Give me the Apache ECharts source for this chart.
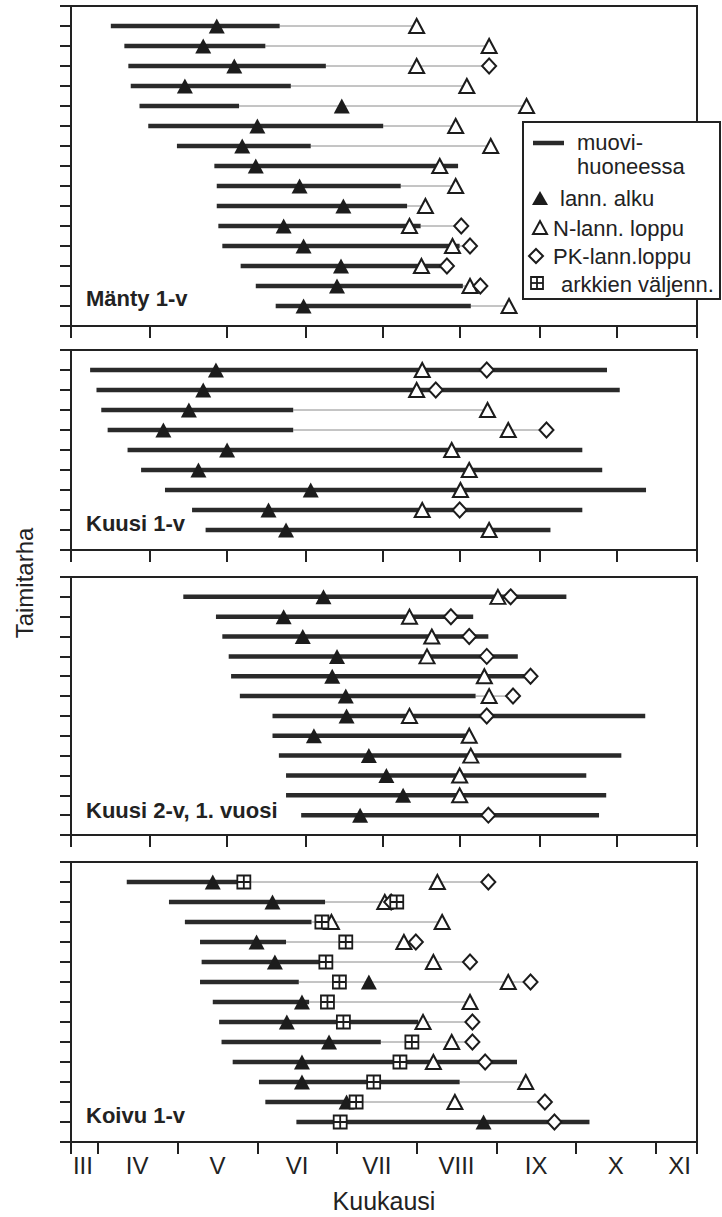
<!DOCTYPE html>
<html>
<head>
<meta charset="utf-8">
<script src="https://cdn.jsdelivr.net/npm/echarts@6/dist/echarts.min.js"></script>
<style>
  html, body { margin: 0; padding: 0; background: #fff; }
  #chart { width: 722px; height: 1217px; }
</style>
</head>
<body>
<div id="chart"></div>
<script>
// Time axis is in months: 4.0 = 1 April, 4.5 = mid-April, etc.
const monthTicks = [3.66, 4, 5, 6, 7, 8, 9, 10, 11, 11.52];
const monthLabelPos = [3.81, 4.49, 5.5, 6.5, 7.5, 8.5, 9.5, 10.5, 11.3];
const monthNames = ['III', 'IV', 'V', 'VI', 'VII', 'VIII', 'IX', 'X', 'XI'];
const panelTicks = [3.66, 4.65, 5.62, 6.61, 7.58, 8.54, 9.55, 10.51, 11.52];

// Mänty 1-v (15 taimitarhaa)
const mantyStart = [4.16, 4.33, 4.38, 4.41, 4.52, 4.63, 4.99, 5.46, 5.49, 5.49, 5.51, 5.56, 5.79, 5.98, 6.23];
const mantyEnd   = [6.28, 6.10, 6.86, 6.42, 5.77, 7.58, 6.67, 8.52, 7.80, 7.88, 8.05, 8.54, 8.31, 8.58, 8.68];
const mantyAlku  = [5.49, 5.32, 5.71, 5.09, 7.06, 6.00, 5.81, 5.98, 6.53, 7.08, 6.33, 6.58, 7.05, 7.00, 6.58];
const mantyN     = [8.00, 8.91, 8.00, 8.63, 9.38, 8.49, 8.93, 8.29, 8.49, 8.11, 7.91, 8.45, 8.06, 8.67, 9.16];
const mantyPK    = [null, null, 8.91, null, null, null, null, null, null, null, 8.56, 8.67, 8.38, 8.80, null];

// Kuusi 1-v (9)
const kuusi1Start = [3.90, 3.98, 4.04, 4.12, 4.37, 4.54, 4.84, 5.18, 5.35];
const kuusi1End   = [10.39, 10.55, 6.45, 6.45, 10.08, 10.33, 10.88, 10.08, 9.68];
const kuusi1Alku  = [5.48, 5.32, 5.14, 4.82, 5.62, 5.26, 6.67, 6.14, 6.36];
const kuusi1N     = [8.07, 8.00, 8.89, 9.15, 8.44, 8.66, 8.55, 8.07, 8.91];
const kuusi1PK    = [8.88, 8.24, null, 9.63, null, null, null, 8.54, null];

// Kuusi 2-v, 1. vuosi (12)
const kuusi2Start = [5.07, 5.48, 5.56, 5.64, 5.67, 5.78, 6.19, 6.19, 6.27, 6.36, 6.36, 6.55];
const kuusi2End   = [9.88, 8.71, 8.90, 9.27, 9.35, 8.74, 10.87, 8.65, 10.57, 10.13, 10.38, 10.29];
const kuusi2Alku  = [6.83, 6.33, 6.57, 7.00, 6.94, 7.11, 7.12, 6.71, 7.40, 7.62, 7.83, 7.29];
const kuusi2N     = [9.02, 7.91, 8.19, 8.13, 8.85, 8.91, 7.91, 8.66, 8.68, 8.54, 8.54, null];
const kuusi2PK    = [9.18, 8.43, 8.66, 8.88, 9.43, 9.21, 8.88, null, null, null, null, 8.90];

// Koivu 1-v (13)
const koivuStart = [4.36, 4.89, 5.09, 5.28, 5.30, 5.28, 5.44, 5.52, 5.55, 5.69, 6.02, 6.10, 6.49];
const koivuEnd   = [5.75, 6.85, 6.68, 6.36, 6.85, 6.52, 6.65, 8.02, 7.55, 9.26, 8.54, 7.12, 10.17];
const koivuAlku  = [5.44, 6.19, null, 5.99, 6.22, 7.40, 6.56, 6.37, 6.90, 6.56, 6.56, 7.12, 8.84];
const koivuN     = [8.26, 7.60, 8.32, 7.84, 8.21, 9.15, 8.67, 8.08, 8.44, 8.21, 9.37, 8.48, null];
const koivuNExtra = [null, null, 6.93, null, null, null, null, null, null, null, null, null, null];
const koivuPK    = [8.90, 7.68, null, 7.99, 8.67, 9.43, null, 8.70, 8.70, 8.86, null, 9.61, 9.73];
const koivuArkki = [5.83, 7.75, 6.81, 7.11, 6.86, 7.03, 6.88, 7.08, 7.94, 7.79, 7.46, 7.24, 7.04];

const panels = [
  { label: 'Mänty 1-v', start: mantyStart, end: mantyEnd, alku: mantyAlku, nEnd: [mantyN], pkEnd: mantyPK, arkki: null },
  { label: 'Kuusi 1-v', start: kuusi1Start, end: kuusi1End, alku: kuusi1Alku, nEnd: [kuusi1N], pkEnd: kuusi1PK, arkki: null },
  { label: 'Kuusi 2-v, 1. vuosi', start: kuusi2Start, end: kuusi2End, alku: kuusi2Alku, nEnd: [kuusi2N], pkEnd: kuusi2PK, arkki: null },
  { label: 'Koivu 1-v', start: koivuStart, end: koivuEnd, alku: koivuAlku, nEnd: [koivuN, koivuNExtra], pkEnd: koivuPK, arkki: koivuArkki }
];

const INK = '#222';
const FONT = '"Liberation Sans", Arial, Helvetica, sans-serif';
const gridBoxes = [
  { top: 6, height: 320 },
  { top: 350, height: 200 },
  { top: 577, height: 258 },
  { top: 862, height: 280 }
];
const labelY = [298, 523, 810, 1115];

const arkkiSymbol = 'path://M0 0H5V5H0Z M5 0H10V5H5Z M0 5H5V10H0Z M5 5H10V10H5Z';

function renderBar(params, api) {
  const y = api.value(3);
  const p0 = api.coord([api.value(0), y]);
  const p1 = api.coord([api.value(1), y]);
  const p2 = api.coord([api.value(2), y]);
  const children = [];
  if (p2[0] > p1[0]) {
    children.push({ type: 'line', shape: { x1: p1[0], y1: p0[1], x2: p2[0], y2: p0[1] },
      style: { stroke: '#8a8a8a', lineWidth: 1 } });
  }
  children.push({ type: 'line', shape: { x1: p0[0], y1: p0[1], x2: p1[0], y2: p0[1] },
    style: { stroke: '#2a2a2a', lineWidth: 4.5 } });
  return { type: 'group', children };
}

function points(arr) {
  if (!arr) return [];
  const out = [];
  arr.forEach((v, r) => { if (v != null) out.push([v, r + 1]); });
  return out;
}

const grids = [], xAxes = [], yAxes = [], series = [];
panels.forEach((p, i) => {
  const rows = p.start.length;
  grids.push({ left: 71, right: 25, top: gridBoxes[i].top, height: gridBoxes[i].height,
    show: true, borderColor: INK, borderWidth: 2, backgroundColor: 'transparent' });
  const last = i === panels.length - 1;
  xAxes.push({
    type: 'value', gridIndex: i, min: 3.66, max: 11.52,
    axisLine: { show: true, onZero: false, lineStyle: { color: INK, width: 2 } },
    axisTick: { show: true, inside: false, length: 12, customValues: last ? monthTicks : panelTicks,
      lineStyle: { color: INK, width: 2 } },
    axisLabel: { show: last, customValues: monthLabelPos, margin: 11, fontSize: 24, fontFamily: FONT, color: INK,
      formatter: v => {
        let k = 0;
        monthLabelPos.forEach((m, j) => { if (Math.abs(m - v) < Math.abs(monthLabelPos[k] - v)) k = j; });
        return monthNames[k];
      } },
    splitLine: { show: false },
    name: last ? 'Kuukausi' : '', nameLocation: 'middle', nameGap: 46,
    nameTextStyle: { fontSize: 25, fontFamily: FONT, color: INK }
  });
  yAxes.push({
    type: 'value', gridIndex: i, min: 0, max: rows + 1, interval: 1, inverse: true,
    axisLine: { show: true, onZero: false, lineStyle: { color: INK, width: 2 } },
    axisTick: { show: true, inside: false, length: 11, lineStyle: { color: INK, width: 2 } },
    axisLabel: { show: false }, splitLine: { show: false }
  });

  const bars = p.start.map((s, r) => {
    const vals = [p.end[r], p.alku[r], p.pkEnd[r]];
    p.nEnd.forEach(a => vals.push(a[r]));
    if (p.arkki) vals.push(p.arkki[r]);
    const lastVal = Math.max(...vals.filter(v => v != null));
    return [s, p.end[r], lastVal, r + 1];
  });
  series.push({ type: 'custom', name: 'muovihuoneessa', xAxisIndex: i, yAxisIndex: i,
    renderItem: renderBar, data: bars, encode: { x: [0, 1, 2], y: 3 }, z: 2, silent: true });

  series.push({ type: 'scatter', name: 'lann. alku', xAxisIndex: i, yAxisIndex: i, z: 3,
    data: points(p.alku), symbol: 'triangle', symbolSize: [16, 15],
    itemStyle: { color: '#1c1c1c', opacity: 1 } });
  let nData = [];
  p.nEnd.forEach(a => { nData = nData.concat(points(a)); });
  series.push({ type: 'scatter', name: 'N-lann. loppu', xAxisIndex: i, yAxisIndex: i, z: 4,
    data: nData, symbol: 'triangle', symbolSize: [15, 14],
    itemStyle: { color: '#fff', borderColor: '#1c1c1c', borderWidth: 2, opacity: 1 } });
  series.push({ type: 'scatter', name: 'PK-lann.loppu', xAxisIndex: i, yAxisIndex: i, z: 5,
    data: points(p.pkEnd), symbol: 'diamond', symbolSize: [14, 15],
    itemStyle: { color: '#fff', borderColor: '#1c1c1c', borderWidth: 2, opacity: 1 } });
  if (p.arkki) {
    series.push({ type: 'scatter', name: 'arkkien väljenn.', xAxisIndex: i, yAxisIndex: i, z: 6,
      data: points(p.arkki), symbol: arkkiSymbol, symbolSize: 13,
      itemStyle: { color: '#fff', borderColor: '#1c1c1c', borderWidth: 1.8, opacity: 1 } });
  }
});

const graphics = [];
// panel titles
panels.forEach((p, i) => {
  graphics.push({ type: 'text', x: 86, y: labelY[i], z: 20,
    style: { text: p.label, fontSize: 22, fontWeight: 'bold', fontFamily: FONT, fill: INK,
      align: 'left', verticalAlign: 'middle' } });
});
// vertical axis title
graphics.push({ type: 'text', x: 24, y: 583, rotation: Math.PI / 2, z: 20,
  style: { text: 'Taimitarha', fontSize: 24, fontFamily: FONT, fill: INK, align: 'center', verticalAlign: 'middle' } });

// legend box
const legendText = (t, x, y) => ({ type: 'text', x, y, z: 31,
  style: { text: t, fontSize: 22, fontFamily: FONT, fill: INK, align: 'left', verticalAlign: 'middle' } });
graphics.push(
  { type: 'rect', z: 30, shape: { x: 523, y: 122, width: 197, height: 177 },
    style: { fill: '#fff', stroke: INK, lineWidth: 2 } },
  { type: 'line', z: 31, shape: { x1: 533, y1: 143, x2: 564, y2: 143 }, style: { stroke: '#2a2a2a', lineWidth: 4.5 } },
  legendText('muovi-', 577, 142),
  legendText('huoneessa', 577, 166),
  { type: 'polygon', z: 31, shape: { points: [[532, 205], [548, 205], [540, 191]] }, style: { fill: '#1c1c1c' } },
  legendText('lann. alku', 560, 198),
  { type: 'polygon', z: 31, shape: { points: [[533, 234], [547, 234], [540, 221]] },
    style: { fill: '#fff', stroke: '#1c1c1c', lineWidth: 2 } },
  legendText('N-lann. loppu', 553, 228),
  { type: 'polygon', z: 31, shape: { points: [[536, 249], [543, 256], [536, 263], [529, 256]] },
    style: { fill: '#fff', stroke: '#1c1c1c', lineWidth: 2 } },
  legendText('PK-lann.loppu', 553, 256),
  { type: 'rect', z: 31, shape: { x: 531, y: 277, width: 12, height: 12 },
    style: { fill: '#fff', stroke: '#1c1c1c', lineWidth: 1.8 } },
  { type: 'line', z: 32, shape: { x1: 537, y1: 277, x2: 537, y2: 289 }, style: { stroke: '#1c1c1c', lineWidth: 1.8 } },
  { type: 'line', z: 32, shape: { x1: 531, y1: 283, x2: 543, y2: 283 }, style: { stroke: '#1c1c1c', lineWidth: 1.8 } },
  legendText('arkkien väljenn.', 561, 284)
);

const chart = echarts.init(document.getElementById('chart'), null, { renderer: 'svg' });
chart.setOption({
  animation: false,
  backgroundColor: '#fff',
  grid: grids,
  xAxis: xAxes,
  yAxis: yAxes,
  series,
  graphic: graphics
});
</script>
</body>
</html>
